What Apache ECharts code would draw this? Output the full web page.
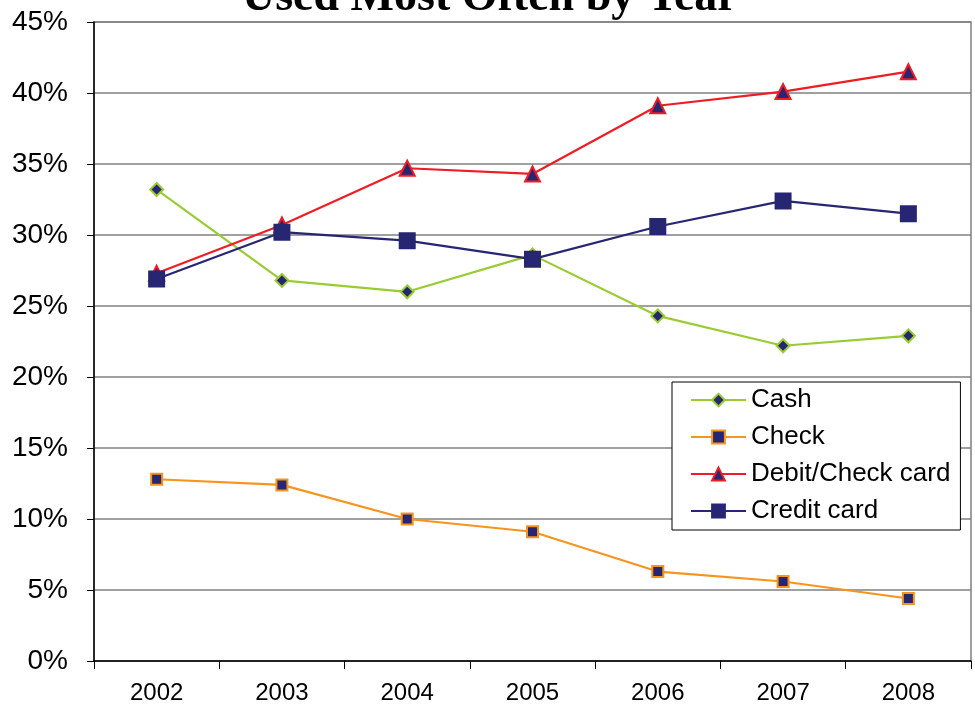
<!DOCTYPE html>
<html>
<head>
<meta charset="utf-8">
<script src="https://cdn.jsdelivr.net/npm/echarts@6/dist/echarts.min.js"></script>
<style>
  html, body { margin: 0; padding: 0; background: #ffffff; }
  #chart { width: 975px; height: 708px; }
</style>
</head>
<body>
<div id="chart"></div>
<script>
  // values, in percent
  const years = ['2002', '2003', '2004', '2005', '2006', '2007', '2008']
  const cash = [33.2, 26.8, 26.0, 28.6, 24.3, 22.2, 22.9]
  const check = [12.8, 12.4, 10.0, 9.1, 6.3, 5.6, 4.4]
  const debitCard = [27.3, 30.7, 34.7, 34.3, 39.1, 40.1, 41.5]
  const creditCard = [26.9, 30.2, 29.6, 28.3, 30.6, 32.4, 31.5]

  const navy = '#262672'
  const sans = 'Liberation Sans'

  function lineSeries (name, data, color, symbol, size) {
    return {
      name: name,
      type: 'line',
      data: data,
      symbol: symbol,
      symbolSize: size,
      lineStyle: { color: color, width: 2.2 },
      itemStyle: { color: navy, borderColor: color, borderWidth: 2 }
    }
  }

  let chart = echarts.init(document.getElementById('chart'))
  chart.setOption({
    animation: false,
    title: {
      text: 'Used Most Often by Year',
      left: 242,
      top: -25,
      padding: 0,
      textStyle: {
        fontFamily: 'Liberation Serif',
        fontWeight: 'bold',
        fontSize: 46,
        color: '#000000'
      }
    },
    legend: {
      orient: 'vertical',
      left: 672,
      top: 382,
      padding: [5, 10, 6, 18],
      itemWidth: 55,
      itemHeight: 16,
      itemGap: 11,
      backgroundColor: '#ffffff',
      borderColor: '#000000',
      borderWidth: 1,
      textStyle: { fontFamily: sans, fontSize: 26, color: '#000000' },
      data: ['Cash', 'Check', 'Debit/Check card', 'Credit card']
    },
    grid: {
      left: 94,
      right: 4,
      top: 22,
      bottom: 47,
      show: true,
      borderColor: '#808080',
      borderWidth: 1.5
    },
    xAxis: {
      type: 'category',
      data: years,
      boundaryGap: true,
      axisLine: { lineStyle: { color: '#000000', width: 1.5 } },
      axisTick: { show: true, length: 8, lineStyle: { color: '#000000' } },
      axisLabel: { fontFamily: sans, fontSize: 24, color: '#000000', margin: 20 }
    },
    yAxis: {
      type: 'value',
      min: 0,
      max: 45,
      interval: 5,
      axisLine: { show: true, lineStyle: { color: '#000000', width: 1.5 } },
      axisTick: { show: true, length: 7, lineStyle: { color: '#000000' } },
      axisLabel: { fontFamily: sans, fontSize: 28, color: '#000000', margin: 26, formatter: '{value}%' },
      splitLine: { lineStyle: { color: '#808080', width: 1.5 } }
    },
    series: [
      lineSeries('Cash', cash, '#99cc33', 'diamond', 13),
      lineSeries('Check', check, '#f7941d', 'rect', 11),
      lineSeries('Debit/Check card', debitCard, '#ee1c25', 'triangle', 15),
      lineSeries('Credit card', creditCard, navy, 'rect', 15)
    ]
  })
</script>
</body>
</html>
